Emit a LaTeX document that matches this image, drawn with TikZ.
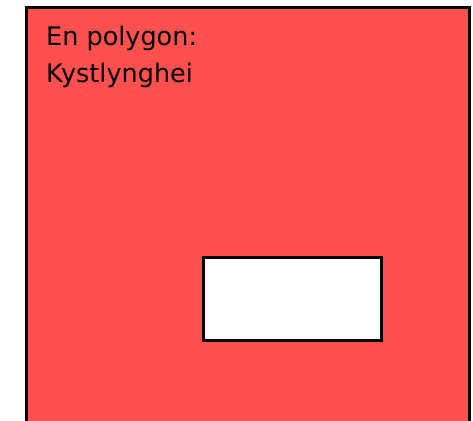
\documentclass[tikz,border=0pt]{standalone}
\usepackage{fontspec}
\setmainfont{DejaVu Sans}
\definecolor{polyred}{HTML}{FF5050}
\begin{document}
\begin{tikzpicture}[x=1pt,y=-1pt,
  edge/.style={draw=black,line width=3pt}]
\useasboundingbox (0,0) rectangle (473,420);
\clip (0,0) rectangle (473,420);
\fill[polyred,even odd rule] (26.5,8) rectangle (469,440) (203,257) rectangle (381,340);
\draw[edge] (26.5,8) rectangle (469,440);
\draw[edge,fill=white] (203,257) rectangle (381,340);
\node[anchor=base west,inner sep=0pt,align=left,font=\fontsize{25.5}{37}\selectfont] (label) at (46,82) {En polygon:\\Kystlynghei};
\end{tikzpicture}
\end{document}
